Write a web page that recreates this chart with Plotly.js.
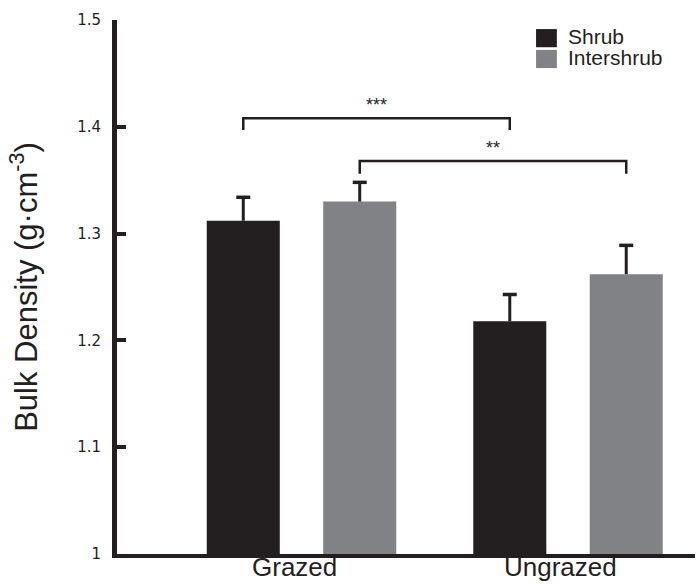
<!DOCTYPE html>
<html>
<head>
<meta charset="utf-8">
<script src="https://cdn.plot.ly/plotly-3.0.1.min.js"></script>
<style>
html,body{margin:0;padding:0;background:#fff;}
#chart{width:697px;height:584px;}
</style>
</head>
<body>
<div id="chart"></div>
<script>
// ---- data ----
const categories = ['Grazed', 'Ungrazed'];
const seriesNames = ['Shrub', 'Intershrub'];
const shrubMean = [1.312, 1.218];
const shrubErr = [0.022, 0.025];
const interMean = [1.330, 1.262];
const interErr = [0.018, 0.027];
const yTickVals = [1, 1.1, 1.2, 1.3, 1.4, 1.5];
const yTickText = ['1', '1.1', '1.2', '1.3', '1.4', '1.5'];
const sigLabels = ['***', '**'];
const bracketTop = [1.408, 1.368];
const bracketDrop = [0.011, 0.012];

// ---- styles ----
const DARK = '#231f20';
const GREY = '#808285';
const FONT = 'Liberation Sans, Arial, sans-serif';
const BARGAP = 0.126;
const GROUPGAP = 0.373;

const errStyle = {type: 'data', symmetric: false, color: DARK, thickness: 3, width: 0};

const traces = [
  {type: 'bar', name: seriesNames[0], x: categories, y: shrubMean,
   marker: {color: DARK}, showlegend: false,
   error_y: Object.assign({array: shrubErr, arrayminus: shrubErr.map(() => 0)}, errStyle)},
  {type: 'bar', name: seriesNames[1], x: categories, y: interMean,
   marker: {color: GREY}, showlegend: false,
   error_y: Object.assign({array: interErr, arrayminus: interErr.map(() => 0)}, errStyle)}
];

// bar centre offsets within a group (in category units)
const slot = (1 - BARGAP) / 2;
const off = [-slot / 2, slot / 2];
const shapes = [];
const annotations = [];

// error-bar caps (upper only)
const means = [shrubMean, interMean];
const errs = [shrubErr, interErr];
[0, 1].forEach(k => {
  categories.forEach((c, i) => {
    const yc = means[k][i] + errs[k][i];
    shapes.push({type: 'line', xref: 'x', yref: 'y', xsizemode: 'pixel', xanchor: i + off[k],
      x0: -7, x1: 7, y0: yc, y1: yc, line: {color: DARK, width: 3.5}});
  });
});

// significance brackets: Grazed shrub -> Ungrazed shrub ; Grazed intershrub -> Ungrazed intershrub
[0, 1].forEach(k => {
  const x0 = 0 + off[k], x1 = 1 + off[k];
  const yt = bracketTop[k], yb = bracketTop[k] - bracketDrop[k];
  shapes.push({type: 'path', xref: 'x', yref: 'y',
    path: `M ${x0} ${yb} L ${x0} ${yt} L ${x1} ${yt} L ${x1} ${yb}`,
    line: {color: DARK, width: 2.5}});
  annotations.push({xref: 'x', yref: 'y', x: (x0 + x1) / 2, y: yt, yanchor: 'bottom', yshift: 1,
    text: sigLabels[k], showarrow: false, font: {family: FONT, size: 18, color: DARK}});
});

// category labels under the axis
categories.forEach((c, i) => {
  annotations.push({xref: 'x', yref: 'paper', x: i - 0.028, y: -0.0562, yanchor: 'bottom', xanchor: 'center',
    text: c, showarrow: false, font: {family: FONT, size: 26, color: DARK}});
});

// legend (top right)
const legColors = [DARK, GREY];
[0, 1].forEach(k => {
  const yc = 0.966 - k * 0.039;
  shapes.push({type: 'rect', xref: 'paper', yref: 'paper', x0: 0.725, x1: 0.761,
    y0: yc - 0.017, y1: yc + 0.017, fillcolor: legColors[k], line: {width: 0}});
  annotations.push({xref: 'paper', yref: 'paper', x: 0.777, y: yc + 0.003, xanchor: 'left', yanchor: 'middle',
    text: seriesNames[k], showarrow: false, font: {family: FONT, size: 21, color: DARK}});
});

const layout = {
  width: 697, height: 584,
  margin: {l: 117, r: 2, t: 20, b: 30},
  paper_bgcolor: '#fff', plot_bgcolor: '#fff',
  barmode: 'group', bargap: BARGAP, bargroupgap: GROUPGAP,
  showlegend: false,
  font: {family: FONT, color: DARK},
  xaxis: {
    type: 'category', range: [-0.6923, 1.4765],
    showline: true, linecolor: DARK, linewidth: 4,
    ticks: '', showgrid: false, zeroline: false, showticklabels: false
  },
  yaxis: {
    range: [1, 1.5], tickvals: yTickVals, ticktext: yTickText,
    showline: true, linecolor: DARK, linewidth: 5,
    ticks: 'inside', ticklen: 9, tickwidth: 4, tickcolor: DARK,
    showgrid: false, zeroline: false, ticklabelstandoff: 8,
    tickfont: {family: 'DejaVu Sans, sans-serif', size: 15, color: DARK},
    title: {text: 'Bulk Density (g·cm<sup>-3</sup>)', standoff: 32,
            font: {family: FONT, size: 31, color: DARK}}
  },
  shapes: shapes,
  annotations: annotations
};

Plotly.newPlot('chart', traces, layout, {displayModeBar: false, staticPlot: true});
</script>
</body>
</html>
